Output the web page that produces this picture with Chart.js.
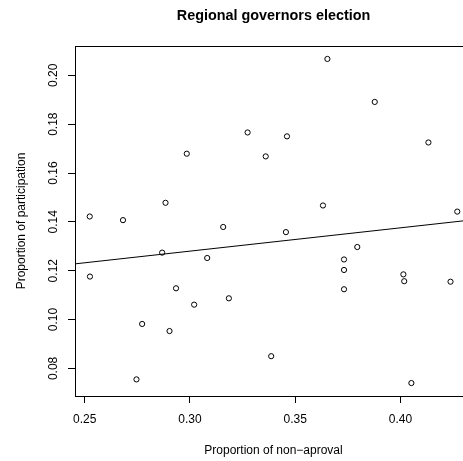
<!DOCTYPE html>
<html>
<head>
<meta charset="utf-8">
<title>Regional governors election</title>
<script src="https://cdn.jsdelivr.net/npm/chart.js@4.4.1/dist/chart.umd.min.js"></script>
<style>
    html, body { margin: 0; padding: 0; background: #fff; overflow: hidden; }
    #wrap { width: 490px; height: 461px; }
</style>
</head>
<body>
<div id="wrap"><canvas id="scatter-chart" width="490" height="461"></canvas></div>
<script>
// values
const nonApproval = [
    0.3653, 0.3878, 0.4133, 0.3274, 0.3461, 0.2985, 0.3360, 0.2884,
    0.3632, 0.4270, 0.2524, 0.2682, 0.3158, 0.3456, 0.3795, 0.2868,
    0.3082, 0.3732, 0.3732, 0.4014, 0.4018, 0.4238, 0.2525, 0.2934,
    0.3732, 0.3185, 0.3020, 0.2773, 0.2903, 0.3386, 0.2746, 0.4052
];
const participation = [
    0.2067, 0.1891, 0.1725, 0.1766, 0.1750, 0.1679, 0.1668, 0.1478,
    0.1467, 0.1442, 0.1422, 0.1407, 0.1379, 0.1358, 0.1297, 0.1274,
    0.1252, 0.1246, 0.1203, 0.1185, 0.1157, 0.1155, 0.1176, 0.1128,
    0.1124, 0.1087, 0.1061, 0.0982, 0.0953, 0.0850, 0.0755, 0.0740
];

// fitted line, ends at the edges of the plot region
const fitX = [0.2454, 0.4340];
const fitY = [0.1228, 0.1408];

const xTicks = [0.25, 0.30, 0.35, 0.40];
const yTicks = [0.08, 0.10, 0.12, 0.14, 0.16, 0.18, 0.20];
const xRange = [0.2454, 0.4340];
const yRange = [0.0687, 0.2120];

const titleText = 'Regional governors election';
const xLabel = 'Proportion of non\u2212aproval';
const yLabel = 'Proportion of participation';

const FONT = '"Liberation Sans", Arial, Helvetica, sans-serif';

// draws the box, title, axis labels and tick labels in R style
const rStyle = {
    id: 'rStyle',
    afterDraw(chart) {
        const ctx = chart.ctx;
        const a = chart.chartArea;
        const xs = chart.scales.x;
        const ys = chart.scales.y;
        const midX = (a.left + a.right) / 2;
        const midY = (a.top + a.bottom) / 2;

        ctx.save();
        ctx.strokeStyle = '#000';
        ctx.lineWidth = 1;
        ctx.strokeRect(Math.round(a.left) + 0.5, Math.round(a.top) + 0.5,
            Math.round(a.right - a.left), Math.round(a.bottom - a.top));

        ctx.fillStyle = '#000';
        ctx.textAlign = 'center';
        ctx.textBaseline = 'middle';

        ctx.font = 'bold 14.4px ' + FONT;
        ctx.fillText(titleText, midX, 16);

        ctx.font = '12px ' + FONT;
        xTicks.forEach(v => {
            ctx.fillText(v.toFixed(2), xs.getPixelForValue(v), 420);
        });
        ctx.fillText(xLabel, midX, 451);

        yTicks.forEach(v => {
            ctx.save();
            ctx.translate(54, ys.getPixelForValue(v));
            ctx.rotate(-Math.PI / 2);
            ctx.fillText(v.toFixed(2), 0, 0);
            ctx.restore();
        });

        ctx.translate(22, midY);
        ctx.rotate(-Math.PI / 2);
        ctx.fillText(yLabel, 0, 0);
        ctx.restore();
    }
};

function renderChart() {
    const points = nonApproval.map((x, i) => ({ x: x, y: participation[i] }));
    const line = fitX.map((x, i) => ({ x: x, y: fitY[i] }));

    const ctx = document.getElementById('scatter-chart').getContext('2d');
    new Chart(ctx, {
        type: 'scatter',
        data: {
            datasets: [{
                data: points,
                pointStyle: 'circle',
                pointRadius: 2.6,
                pointBorderWidth: 1,
                borderColor: '#000',
                backgroundColor: 'rgba(0,0,0,0)'
            }, {
                type: 'line',
                data: line,
                borderColor: '#000',
                borderWidth: 1,
                pointRadius: 0,
                fill: false
            }]
        },
        options: {
            responsive: false,
            animation: false,
            devicePixelRatio: 1,
            layout: { padding: { left: 0, top: 46, right: 18, bottom: 0 } },
            plugins: {
                legend: { display: false },
                tooltip: { enabled: false }
            },
            scales: {
                x: {
                    type: 'linear',
                    position: 'bottom',
                    min: xRange[0],
                    max: xRange[1],
                    afterBuildTicks: s => { s.ticks = xTicks.map(v => ({ value: v })); },
                    afterFit: s => { s.height = 65; },
                    ticks: { display: false },
                    border: { display: false },
                    grid: { drawOnChartArea: false, drawTicks: true, tickLength: 7, color: '#000', lineWidth: 1 }
                },
                y: {
                    type: 'linear',
                    position: 'left',
                    min: yRange[0],
                    max: yRange[1],
                    afterBuildTicks: s => { s.ticks = yTicks.map(v => ({ value: v })); },
                    afterFit: s => { s.width = 75; },
                    ticks: { display: false },
                    border: { display: false },
                    grid: { drawOnChartArea: false, drawTicks: true, tickLength: 7, color: '#000', lineWidth: 1 }
                }
            }
        },
        plugins: [rStyle]
    });
}

renderChart();
</script>
</body>
</html>
